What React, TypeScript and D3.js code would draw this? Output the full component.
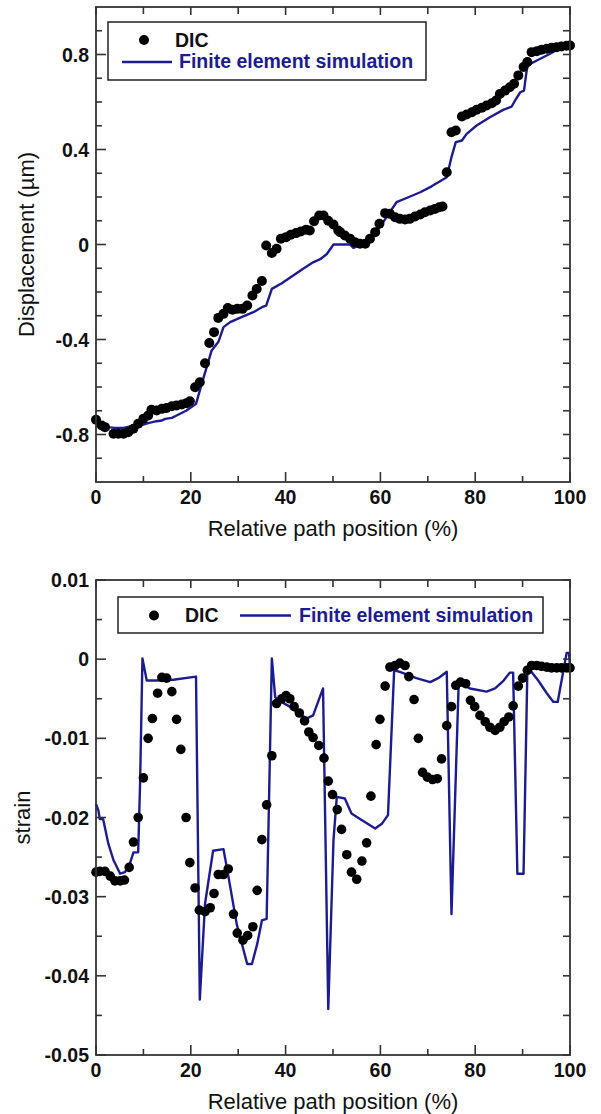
import React from 'react';
import * as d3 from 'd3';

// ---------- data ----------
const xMajorTicks = [0, 20, 40, 60, 80, 100];
const xMinorTicks = [10, 30, 50, 70, 90];
const xTickLabels = ['0', '20', '40', '60', '80', '100'];

const dispMajorTicks = [-0.8, -0.4, 0, 0.4, 0.8];
const dispTickLabels = ['-0.8', '-0.4', '0', '0.4', '0.8'];
const dispMinorTicks = [-0.9, -0.7, -0.6, -0.5, -0.3, -0.2, -0.1, 0.1, 0.2, 0.3, 0.5, 0.6, 0.7, 0.9];

const strainMajorTicks = [-0.05, -0.04, -0.03, -0.02, -0.01, 0, 0.01];
const strainTickLabels = ['-0.05', '-0.04', '-0.03', '-0.02', '-0.01', '0', '0.01'];
const strainMinorTicks = [-0.045, -0.035, -0.025, -0.015, -0.005, 0.005];

const dispDIC: [number, number][] = [
  [0, -0.738], [1.2, -0.762], [1.9, -0.769], [3.7, -0.797], [4.7, -0.797], [5.8, -0.797],
  [6.8, -0.79], [7.9, -0.776], [8.9, -0.755], [10.0, -0.734], [11.0, -0.72], [11.7, -0.696],
  [12.8, -0.699], [13.9, -0.692], [14.9, -0.688], [16.0, -0.681], [17.0, -0.678], [18.1, -0.674],
  [19.1, -0.668], [19.8, -0.66], [20.9, -0.601], [21.9, -0.58], [23.0, -0.5], [23.9, -0.415],
  [24.9, -0.369], [25.8, -0.309], [26.9, -0.292], [27.8, -0.267], [28.8, -0.275], [29.8, -0.271],
  [30.9, -0.271], [31.9, -0.257], [33.0, -0.215], [33.9, -0.187], [35.0, -0.154], [35.9, -0.004],
  [37.1, -0.036], [38.1, -0.018], [39.0, 0.024], [40.1, 0.031], [41.1, 0.041], [42.2, 0.048],
  [43.2, 0.055], [44.3, 0.062], [45.1, 0.059], [46.0, 0.098], [47.1, 0.122], [48.0, 0.122],
  [49.0, 0.1], [50.1, 0.084], [51.1, 0.059], [51.5, 0.052], [52.5, 0.038], [53.6, 0.024],
  [54.6, 0.01], [55.7, 0.003], [56.8, 0.003], [57.8, 0.024], [58.9, 0.052], [59.8, 0.087],
  [61.0, 0.132], [62.0, 0.129], [63.1, 0.115], [64.1, 0.108], [65.2, 0.105], [66.2, 0.108],
  [67.3, 0.118], [68.4, 0.126], [69.4, 0.136], [70.5, 0.143], [71.5, 0.15], [72.4, 0.157],
  [73.1, 0.16], [74.0, 0.304], [75.0, 0.473], [75.9, 0.48], [77.2, 0.539], [78.2, 0.547],
  [79.3, 0.557], [80.3, 0.567], [81.4, 0.576], [82.4, 0.585], [83.5, 0.595], [84.4, 0.606],
  [85.2, 0.634], [86.3, 0.648], [87.3, 0.662], [88.2, 0.677], [89.1, 0.712], [90.2, 0.747],
  [91.0, 0.768], [91.9, 0.81], [93.0, 0.814], [94.0, 0.82], [95.1, 0.824], [96.1, 0.828],
  [97.2, 0.831], [98.2, 0.834], [99.3, 0.837], [100, 0.838],
];

const dispFE: [number, number][] = [
  [0, -0.762], [2.3, -0.769], [4.0, -0.772], [5.8, -0.772], [7.2, -0.766], [9.3, -0.762],
  [11.0, -0.752], [12.8, -0.744], [13.9, -0.741], [14.6, -0.734], [16.0, -0.73], [17.0, -0.72],
  [19.1, -0.699], [21.1, -0.671], [22.3, -0.587], [24.4, -0.446], [25.8, -0.411], [26.9, -0.348],
  [28.3, -0.327], [30.7, -0.306], [33.2, -0.285], [35.0, -0.264], [35.9, -0.257], [37.1, -0.187],
  [39.2, -0.163], [41.6, -0.131], [43.7, -0.102], [45.8, -0.075], [47.3, -0.062], [48.7, -0.04],
  [50.1, 0], [53.6, 0], [54.3, -0.014], [56.4, 0.003], [58.9, 0.045], [61.3, 0.115],
  [63.4, 0.178], [65.9, 0.199], [68.4, 0.22], [70.8, 0.245], [74.0, 0.283], [75.0, 0.368],
  [75.9, 0.431], [77.2, 0.438], [78.2, 0.466], [80.3, 0.501], [83.1, 0.536], [85.9, 0.567],
  [87.7, 0.581], [88.4, 0.606], [89.5, 0.641], [90.3, 0.648], [91.0, 0.754], [93.0, 0.775],
  [95.8, 0.803], [97.9, 0.828], [100, 0.838],
];

const strainDIC: [number, number][] = [
  [0, -0.0269], [0.8, -0.0268], [1.9, -0.0268], [3.0, -0.0274], [4.0, -0.028], [5.1, -0.028],
  [6.0, -0.0279], [7.0, -0.0263], [7.9, -0.0231], [8.9, -0.02], [10.0, -0.015], [11.0, -0.01],
  [11.9, -0.0075], [13.0, -0.0043], [13.9, -0.0023], [14.9, -0.0024], [16.0, -0.0041], [17.0, -0.0076],
  [17.9, -0.0114], [19.0, -0.02], [19.8, -0.0257], [20.9, -0.0289], [21.8, -0.0317], [23.0, -0.0319],
  [24.1, -0.0314], [24.9, -0.0296], [25.8, -0.0272], [26.9, -0.0272], [27.9, -0.0265], [29.0, -0.0322],
  [29.8, -0.0346], [31.0, -0.0355], [32.0, -0.0349], [33.1, -0.0338], [34.0, -0.0292], [35.0, -0.0228],
  [36.0, -0.0184], [37.1, -0.0122], [38.1, -0.0056], [39.2, -0.005], [40.1, -0.0046], [40.9, -0.005],
  [41.8, -0.006], [42.9, -0.0068], [44.0, -0.0078], [44.9, -0.0092], [45.8, -0.0099], [47.0, -0.0109],
  [48.1, -0.0125], [49.0, -0.0154], [49.9, -0.0171], [50.9, -0.019], [51.8, -0.0215], [52.9, -0.0247],
  [53.9, -0.0269], [55.0, -0.0278], [56.1, -0.0255], [57.1, -0.0232], [58.0, -0.0173], [59.1, -0.0108],
  [59.9, -0.0076], [61.0, -0.0034], [62.0, -0.001], [63.1, -0.0008], [64.1, -0.0005], [65.2, -0.0008],
  [66.0, -0.0022], [67.1, -0.0051], [68.0, -0.01], [68.9, -0.0143], [69.9, -0.0149], [71.0, -0.0152],
  [72.0, -0.0151], [72.9, -0.0126], [74.0, -0.0084], [75.0, -0.006], [75.9, -0.0033], [76.9, -0.0029],
  [78.0, -0.0031], [79.0, -0.0052], [79.9, -0.006], [81.0, -0.0071], [82.1, -0.0079], [83.1, -0.0086],
  [84.2, -0.009], [85.2, -0.0086], [86.1, -0.0079], [87.1, -0.0073], [88.0, -0.0059], [89.1, -0.0034],
  [90.0, -0.0024], [91.0, -0.0014], [91.9, -0.0008], [93.0, -0.0008], [94.0, -0.0009], [95.1, -0.001],
  [96.1, -0.0011], [97.2, -0.0011], [98.2, -0.0011], [99.3, -0.0011], [100, -0.0011],
];

const strainFE: [number, number][] = [
  [0, -0.0183], [0.5, -0.0191], [0.8, -0.0202], [1.5, -0.0202], [2.6, -0.0233], [3.7, -0.0254],
  [5.1, -0.0271], [6.1, -0.0269], [7.0, -0.0261], [7.9, -0.0244], [8.9, -0.0244], [9.3, -0.0157],
  [9.8, 0.0001], [10.7, -0.0027], [12.8, -0.0027], [16.3, -0.0026], [21.1, -0.0022], [21.9, -0.043],
  [23.0, -0.0309], [24.7, -0.0242], [26.9, -0.024], [27.6, -0.0263], [29.7, -0.0335], [31.9, -0.0385],
  [32.9, -0.0385], [34.0, -0.036], [35.0, -0.033], [36.0, -0.0328], [37.1, 0.0001], [37.8, -0.0048],
  [38.5, -0.0052], [40.9, -0.006], [44.4, -0.0075], [45.8, -0.0071], [47.9, -0.0037], [49.0, -0.0442],
  [50.1, -0.0229], [50.8, -0.0174], [52.5, -0.0176], [53.9, -0.0195], [55.7, -0.0202], [58.9, -0.0214],
  [60.3, -0.0208], [61.6, -0.0197], [62.9, -0.0014], [64.1, -0.0016], [67.6, -0.0024], [70.5, -0.0029],
  [72.2, -0.0024], [74.0, -0.0016], [75.0, -0.0322], [76.5, -0.0033], [76.8, -0.0031], [78.9, -0.0037],
  [82.4, -0.0041], [84.2, -0.0037], [86.0, -0.0027], [87.3, -0.0017], [88.0, -0.0017], [88.9, -0.0271],
  [90.2, -0.0271], [91.0, -0.0016], [91.6, -0.0014], [93.3, -0.0027], [95.1, -0.0043], [96.5, -0.0054],
  [97.4, -0.0054], [98.9, -0.0005], [99.3, 0.0008], [99.8, 0.0008], [100, -0.001],
];

// ---------- styling ----------
const FONT = '"Liberation Sans", Arial, Helvetica, sans-serif';
const NAVY = '#1c1c90';
const AXIS = '#333333';

type PanelProps = {
  top: number;
  bottom: number;
  left: number;
  right: number;
  yDomain: [number, number];
  yMajor: number[];
  yLabels: string[];
  yMinor: number[];
  yTitle: string;
  yTitleX: number;
  dots: [number, number][];
  line: [number, number][];
  dotR: number;
  legend: 'stacked' | 'inline';
};

function Panel(p: PanelProps) {
  const x = d3.scaleLinear().domain([0, 100]).range([p.left, p.right]);
  const y = d3.scaleLinear().domain(p.yDomain).range([p.bottom, p.top]);
  const lineGen = d3
    .line<[number, number]>()
    .x((d) => x(d[0]))
    .y((d) => y(d[1]));
  const MAJ = 10;
  const MIN = 6;
  const cy = (p.top + p.bottom) / 2;
  const cx = (p.left + p.right) / 2;

  return (
    <g>
      {/* series */}
      <path d={lineGen(p.line) || ''} fill="none" stroke={NAVY} strokeWidth={2.4} strokeLinejoin="round" />
      {p.dots.map((d, i) => (
        <circle key={i} cx={x(d[0])} cy={y(d[1])} r={p.dotR} fill="#000" />
      ))}

      {/* frame */}
      <rect
        x={p.left}
        y={p.top}
        width={p.right - p.left}
        height={p.bottom - p.top}
        fill="none"
        stroke={AXIS}
        strokeWidth={1.8}
      />

      {/* x ticks bottom & top */}
      {xMajorTicks.map((t) => (
        <g key={'xM' + t}>
          <line x1={x(t)} x2={x(t)} y1={p.bottom} y2={p.bottom - MAJ} stroke={AXIS} strokeWidth={1.6} />
          <line x1={x(t)} x2={x(t)} y1={p.top} y2={p.top + 8} stroke={AXIS} strokeWidth={1.6} />
        </g>
      ))}
      {xMinorTicks.map((t) => (
        <g key={'xm' + t}>
          <line x1={x(t)} x2={x(t)} y1={p.bottom} y2={p.bottom - MIN} stroke={AXIS} strokeWidth={1.6} />
          <line x1={x(t)} x2={x(t)} y1={p.top} y2={p.top + 7} stroke={AXIS} strokeWidth={1.6} />
        </g>
      ))}
      {xMajorTicks.map((t, i) => (
        <text
          key={'xl' + t}
          x={x(t)}
          y={p.bottom + 22}
          textAnchor="middle"
          fontFamily={FONT}
          fontWeight="bold"
          fontSize={19.5}
          fill="#111"
        >
          {xTickLabels[i]}
        </text>
      ))}

      {/* y ticks left & right */}
      {p.yMajor.map((t) => (
        <g key={'yM' + t}>
          <line x1={p.left} x2={p.left + MAJ} y1={y(t)} y2={y(t)} stroke={AXIS} strokeWidth={1.6} />
          <line x1={p.right} x2={p.right - 7} y1={y(t)} y2={y(t)} stroke={AXIS} strokeWidth={1.6} />
        </g>
      ))}
      {p.yMinor.map((t) => (
        <g key={'ym' + t}>
          <line x1={p.left} x2={p.left + MIN} y1={y(t)} y2={y(t)} stroke={AXIS} strokeWidth={1.6} />
          <line x1={p.right} x2={p.right - 7} y1={y(t)} y2={y(t)} stroke={AXIS} strokeWidth={1.6} />
        </g>
      ))}
      {p.yMajor.map((t, i) => (
        <text
          key={'yl' + t}
          x={p.left - 7}
          y={y(t)}
          dy="0.36em"
          textAnchor="end"
          fontFamily={FONT}
          fontWeight="bold"
          fontSize={19.5}
          fill="#111"
        >
          {p.yLabels[i]}
        </text>
      ))}

      {/* titles */}
      <text x={cx} y={p.bottom + 54} textAnchor="middle" fontFamily={FONT} fontSize={22} fill="#111">
        Relative path position (%)
      </text>
      <text
        transform={`translate(${p.yTitleX},${cy}) rotate(-90)`}
        textAnchor="middle"
        fontFamily={FONT}
        fontSize={22}
        fill="#111"
      >
        {p.yTitle}
      </text>
    </g>
  );
}

export default function App() {
  return (
    <svg
      width={601}
      height={1114}
      viewBox="0 0 601 1114"
      style={{ position: 'absolute', left: 0, top: 0, background: '#fff' }}
    >
      <rect x={0} y={0} width={601} height={1114} fill="#fff" />
      <Panel
        top={7}
        bottom={482}
        left={96}
        right={570}
        yDomain={[-1, 1]}
        yMajor={dispMajorTicks}
        yLabels={dispTickLabels}
        yMinor={dispMinorTicks}
        yTitle="Displacement (µm)"
        yTitleX={34}
        dots={dispDIC}
        line={dispFE}
        dotR={5}
        legend="stacked"
      />
      {/* top legend */}
      <g>
        <rect x={108} y={22} width={318} height={58} fill="#fff" stroke="#222" strokeWidth={1.5} />
        <circle cx={144} cy={40} r={5} fill="#000" />
        <text x={175} y={46.5} fontFamily={FONT} fontWeight="bold" fontSize={19.5} fill="#111">
          DIC
        </text>
        <line x1={122} x2={172} y1={62} y2={62} stroke={NAVY} strokeWidth={2.4} />
        <text x={179} y={68} fontFamily={FONT} fontWeight="bold" fontSize={19.5} fill={NAVY}>
          Finite element simulation
        </text>
      </g>

      <Panel
        top={580}
        bottom={1055}
        left={96}
        right={570}
        yDomain={[-0.05, 0.01]}
        yMajor={strainMajorTicks}
        yLabels={strainTickLabels}
        yMinor={strainMinorTicks}
        yTitle="strain"
        yTitleX={30}
        dots={strainDIC}
        line={strainFE}
        dotR={4.8}
        legend="inline"
      />
      {/* bottom legend */}
      <g>
        <rect x={118} y={597} width={425} height={36} fill="#fff" stroke="#222" strokeWidth={1.5} />
        <circle cx={154} cy={615.5} r={5} fill="#000" />
        <text x={185} y={622} fontFamily={FONT} fontWeight="bold" fontSize={19.5} fill="#111">
          DIC
        </text>
        <line x1={240} x2={291} y1={615.5} y2={615.5} stroke={NAVY} strokeWidth={2.4} />
        <text x={299} y={622} fontFamily={FONT} fontWeight="bold" fontSize={19.5} fill={NAVY}>
          Finite element simulation
        </text>
      </g>
    </svg>
  );
}
